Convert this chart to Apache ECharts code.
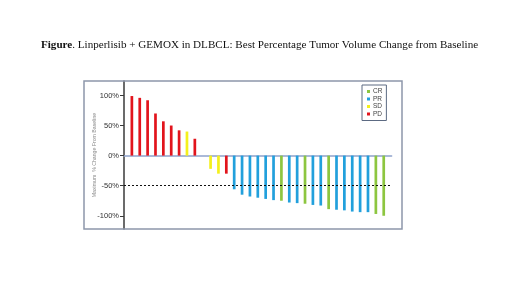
<!DOCTYPE html>
<html>
<head>
<meta charset="utf-8">
<script src="https://cdn.jsdelivr.net/npm/echarts@6/dist/echarts.min.js"></script>
<style>html,body{margin:0;padding:0;background:#fff}#c{width:520px;height:292px}</style>
</head>
<body>
<div id="c"></div>
<script>
// Patients ordered as in the waterfall plot ('' = empty slot)
var categories = ['', 'P1','P2','P3','P4','P5','P6','P7','P8','P9','',
  'P10','P11','P12','P13','P14','P15','P16','P17','P18','P19','P20','P21','P22','P23','P24','P25','P26','P27','P28','P29','P30','P31','P32', ''];
var values = [null, 99, 96, 92, 70, 57, 50, 42, 40, 28, null,
  -22, -30, -30, -56, -65, -68, -70, -72, -74, -75, -78, -79, -80, -82, -83, -89, -90, -91, -93, -94, -94, -97, -100, null];
var responses = [null, 'PD','PD','PD','PD','PD','PD','PD','SD','PD', null,
  'SD','SD','PD','PR','PR','PR','PR','PR','PR','CR','PR','PR','CR','PR','PR','CR','PR','PR','PR','PR','PR','CR','CR', null];
var responseTypes = ['CR', 'PR', 'SD', 'PD'];
var yTicks = [-100, -50, 0, 50, 100];
var colors = { CR: '#8dc640', PR: '#22a0dc', SD: '#f4f01c', PD: '#e2141c' };

var series = responseTypes.map(function (t, i) {
  return {
    name: t,
    type: 'bar',
    barWidth: 2.7,
    barGap: '-100%',
    itemStyle: { color: colors[t] },
    data: values.map(function (v, k) { return responses[k] === t ? v : null; }),
    markLine: i === 0 ? {
      silent: true, symbol: 'none', label: { show: false },
      lineStyle: { color: '#111', type: [2, 2], width: 1 },
      data: [{ yAxis: -50 }]
    } : undefined
  };
});

var chart = echarts.init(document.getElementById('c'));
chart.setOption({
  animation: false,
  title: {
    left: 41, top: 40, padding: 0,
    text: '{b|Figure}. Linperlisib + GEMOX in DLBCL: Best Percentage Tumor Volume Change from Baseline',
    textStyle: {
      fontFamily: 'Liberation Serif', fontSize: 11.1, fontWeight: 'normal', color: '#111',
      rich: { b: { fontFamily: 'Liberation Serif', fontSize: 11.1, fontWeight: 'bold', color: '#111' } }
    }
  },
  legend: {
    orient: 'vertical', left: 362, top: 85,
    data: responseTypes,
    itemWidth: 3, itemHeight: 3, itemGap: 0.5,
    icon: 'rect',
    padding: [3, 4, 3, 5],
    borderColor: '#5c6a82', borderWidth: 1,
    textStyle: { fontSize: 6.5, color: '#444', lineHeight: 7, padding: [0, 0, 0, -2] }
  },
  grid: { left: 124, top: 81, right: 128.4, bottom: 63, containLabel: false },
  xAxis: {
    type: 'category', data: categories, boundaryGap: false,
    axisLine: { onZero: true, lineStyle: { color: '#8fa2cc', width: 1.5 } },
    axisTick: { show: false }, axisLabel: { show: false }, splitLine: { show: false }
  },
  yAxis: {
    type: 'value', min: -122, max: 124,
    name: 'Maximum  % Change From Baseline', nameLocation: 'middle', nameRotate: 90, nameGap: 29,
    nameMoveOverlap: false,
    nameTextStyle: { fontSize: 5.2, color: '#8a8a8a', verticalAlign: 'middle' },
    axisLine: { show: true, lineStyle: { color: '#3a3a3a', width: 1.5 } },
    axisTick: { show: true, length: 4, customValues: yTicks, lineStyle: { color: '#3a3a3a' } },
    axisLabel: { customValues: yTicks, fontSize: 7.5, color: '#333', margin: 5,
      formatter: function (v) { return v + '%'; } },
    splitLine: { show: false }
  },
  graphic: [{
    type: 'rect', shape: { x: 84, y: 81, width: 318, height: 148 },
    style: { fill: 'none', stroke: '#8d97ab', lineWidth: 1.5 }, z: 100, silent: true
  }],
  series: series
});
</script>
</body>
</html>
